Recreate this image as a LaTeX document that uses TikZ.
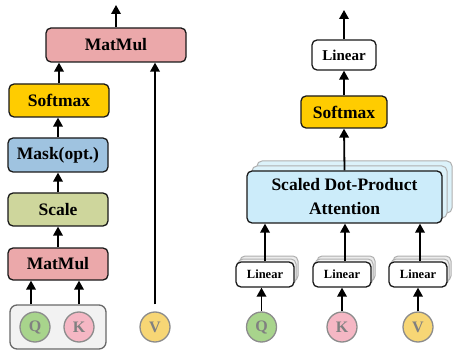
\documentclass[tikz,border=0pt]{standalone}
\usepackage{fontspec}
\setmainfont{Liberation Serif}
\usetikzlibrary{arrows.meta,calc}

\definecolor{mmpink}{RGB}{235,168,170}
\definecolor{smyellow}{RGB}{255,204,0}
\definecolor{maskblue}{RGB}{159,195,224}
\definecolor{scalegreen}{RGB}{206,214,156}
\definecolor{sdpacyan}{RGB}{204,236,250}
\definecolor{sdpaback}{RGB}{220,242,250}
\definecolor{qgreen}{RGB}{168,212,140}
\definecolor{kpink}{RGB}{245,183,196}
\definecolor{vyellow}{RGB}{247,214,117}
\definecolor{groupfill}{RGB}{242,242,242}
\definecolor{groupline}{RGB}{105,105,105}
\definecolor{circline}{RGB}{140,140,140}
\definecolor{layerline}{RGB}{175,175,175}

\begin{document}
\begin{tikzpicture}[x=1pt,y=-1pt,
  blk/.style={draw=black!90, line width=1.3pt, rounded corners=5pt,
    inner sep=0pt, align=center,
    font=\fontsize{17.5}{24}\selectfont\bfseries},
  smallblk/.style={blk, font=\fontsize{12.5}{14}\selectfont\bfseries,
    minimum width=58pt, minimum height=25pt, fill=white},
  layer/.style={draw=layerline, line width=1pt, rounded corners=5pt, inner sep=0pt},
  arr/.style={line width=1.8pt, -{Triangle[width=9.5pt,length=9pt]}},
  inp/.style={circle, draw=circline, line width=1.3pt, minimum size=30pt,
    inner sep=0pt, text=black!50, font=\fontsize{16}{16}\selectfont\bfseries}
]
\useasboundingbox (0,0) rectangle (454,352);

% ---------- scaled dot-product attention ----------
\node[blk, fill=mmpink, minimum width=140pt, minimum height=34pt] (mmTop) at (116,45) {MatMul};
\node[blk, fill=smyellow, minimum width=100pt, minimum height=33pt] (softL) at (59,100.5) {Softmax};
\node[blk, fill=maskblue, minimum width=100pt, minimum height=34pt] (mask) at (58,155) {Mask(opt.)};
\node[blk, fill=scalegreen, minimum width=100pt, minimum height=33pt] (scale) at (58,209.5) {Scale};
\node[blk, fill=mmpink, minimum width=100pt, minimum height=32pt] (mmBot) at (58,264) {MatMul};

\node[draw=groupline, fill=groupfill, line width=1.3pt, rounded corners=7pt,
  minimum width=96pt, minimum height=44pt, inner sep=0pt] (qk) at (58,327) {};
\node[inp, fill=qgreen] (Q) at (35,327) {Q};
\node[inp, fill=kpink] (K) at (79,327) {K};
\node[inp, fill=vyellow] (V) at (155,327) {V};

\coordinate (outL) at (116,5);
\coordinate (qkQ) at ($(qk.north)+(-27,0)$);
\coordinate (qkK) at ($(qk.north)+(21,0)$);

\draw[arr] (mmTop.north) -- (outL);
\draw[arr] (softL.north) -- (softL.north |- mmTop.south);
\draw[arr] (mask.north) -- (mask.north |- softL.south);
\draw[arr] (scale.north) -- (mask.south);
\draw[arr] (mmBot.north) -- (scale.south);
\draw[arr] (qkQ) -- (qkQ |- mmBot.south);
\draw[arr] (qkK) -- (qkK |- mmBot.south);
\draw[arr] (V.north |- qk.north) -- (V.north |- mmTop.south);

% ---------- multi-head attention ----------
\node[blk, fill=white, minimum width=64pt, minimum height=30pt,
  font=\fontsize{15}{17}\selectfont\bfseries] (linTop) at (344,55) {Linear};
\node[blk, fill=smyellow, minimum width=86pt, minimum height=32pt] (softR) at (344,112) {Softmax};

\node[layer, fill=sdpaback, minimum width=195pt, minimum height=52pt] (sdpaB2) at (354.5,187) {};
\node[layer, fill=sdpaback, minimum width=195pt, minimum height=52pt] (sdpaB1) at (349.5,192) {};
\node[blk, fill=sdpacyan, minimum width=195pt, minimum height=52pt] (sdpa) at (344.5,197) {Scaled Dot-Product\\Attention};

\foreach \n/\x in {Q/265, K/342, V/418}{
  \node[layer, fill=black!8, minimum width=58pt, minimum height=25pt] (lin\n B2) at (\x+4,268.5) {};
  \node[layer, fill=black!5, minimum width=58pt, minimum height=25pt] (lin\n B1) at (\x+2,271.5) {};
  \node[smallblk] (lin\n) at (\x,274.5) {Linear};
}

\node[inp, fill=qgreen] (Q2) at (261.5,327) {Q};
\node[inp, fill=kpink] (K2) at (342,327) {K};
\node[inp, fill=vyellow] (V2) at (418,327) {V};

\coordinate (outR) at (344,10);
\draw[arr] (linTop.north) -- (outR);
\draw[arr] (softR.north) -- (linTop.south);
\draw[arr] (sdpa.north) -- (softR.south);

\coordinate (upQ) at ($(linQ.north)+(0,0)$);
\coordinate (upK) at ($(linK.north)+(3,0)$);
\coordinate (upV) at ($(linV.north)+(2,0)$);
\draw[arr] (upQ) -- (upQ |- sdpa.south);
\draw[arr] (upK) -- (upK |- sdpa.south);
\draw[arr] (upV) -- (upV |- sdpa.south);

\draw[arr] (Q2.north) -- (Q2.north |- linQ.south);
\draw[arr] (K2.north) -- (K2.north |- linK.south);
\draw[arr] (V2.north) -- (V2.north |- linV.south);
\end{tikzpicture}
\end{document}
